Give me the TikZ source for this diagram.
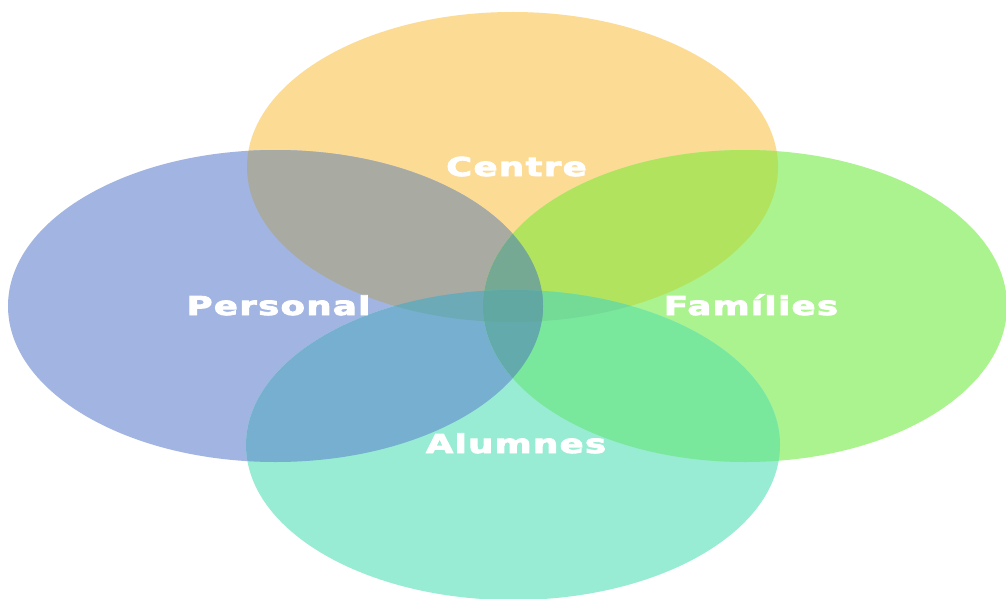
\documentclass[tikz,border=0pt]{standalone}
\usepackage{fontspec}
\newfontfamily\lblfont[LetterSpace=4,BoldFeatures={FakeBold=3}]{DejaVu Sans}
\definecolor{cC}{HTML}{FCDB95}
\definecolor{cP}{HTML}{A2B5E2}
\definecolor{cF}{HTML}{ABF38F}
\definecolor{cA}{HTML}{98ECD3}
\definecolor{cCP}{HTML}{A9ABA3}
\definecolor{cCF}{HTML}{B2E35F}
\definecolor{cPA}{HTML}{76AFCF}
\definecolor{cFA}{HTML}{79E89D}
\definecolor{cCPF}{HTML}{76A994}
\definecolor{cCPA}{HTML}{6BAAB6}
\definecolor{cCFA}{HTML}{74DB96}
\definecolor{cPFA}{HTML}{63AAAC}
\definecolor{cQuad}{HTML}{62A8A2}
\def\ellC{(512.5,167) ellipse [x radius=265.5pt, y radius=155pt]}
\def\ellP{(275.5,306) ellipse [x radius=267.5pt, y radius=156pt]}
\def\ellF{(745,306) ellipse [x radius=262pt, y radius=156pt]}
\def\ellA{(513,445) ellipse [x radius=267pt, y radius=155pt]}
\begin{document}
\begin{tikzpicture}[x=1pt,y=-1pt,
  lbl/.style={text=white,inner sep=0pt,anchor=base,
    font=\fontsize{26}{30}\lblfont\bfseries,xscale=1.36}]
\fill[white] (0,0) rectangle (1006,599);
\useasboundingbox (0,0) rectangle (1006,599);
\begin{scope}
\clip (0,0) rectangle (1006,599);
% single sets
\fill[cC] \ellC;
\fill[cP] \ellP;
\fill[cF] \ellF;
\fill[cA] \ellA;
% pairs
\begin{scope}\clip \ellC; \fill[cCP] \ellP; \fill[cCF] \ellF; \end{scope}
\begin{scope}\clip \ellA; \fill[cPA] \ellP; \fill[cFA] \ellF; \end{scope}
% triples
\begin{scope}\clip \ellC; \clip \ellP; \fill[cCPF] \ellF; \end{scope}
\begin{scope}\clip \ellC; \clip \ellP; \fill[cCPA] \ellA; \end{scope}
\begin{scope}\clip \ellC; \clip \ellF; \fill[cCFA] \ellA; \end{scope}
\begin{scope}\clip \ellP; \clip \ellF; \fill[cPFA] \ellA; \end{scope}
% all four
\begin{scope}\clip \ellC; \clip \ellP; \clip \ellF; \fill[cQuad] \ellA; \end{scope}
\end{scope}
% labels
\node[lbl] (centre) at (516.5,176) {Centre};
\node[lbl] (personal) at (278.5,315) {Personal};
\node[lbl] (families) at (751,315) {Famílies};
\node[lbl] (alumnes) at (516,453) {Alumnes};
\end{tikzpicture}
\end{document}
